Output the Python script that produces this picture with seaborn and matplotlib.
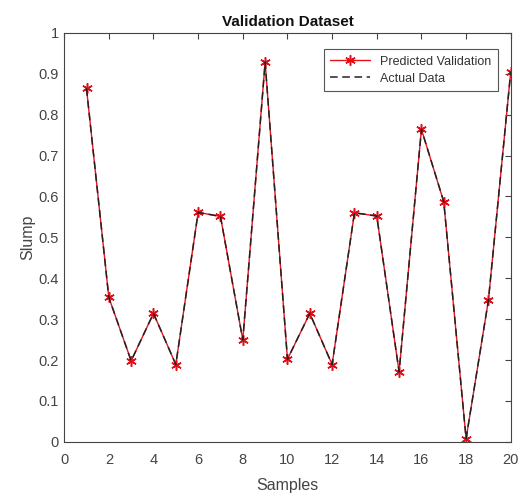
import matplotlib
matplotlib.use("Agg")
import matplotlib.pyplot as plt
import seaborn as sns
import pandas as pd

samples = list(range(1, 21))
predicted = [0.864, 0.353, 0.198, 0.314, 0.189, 0.561, 0.551, 0.249, 0.928, 0.202,
             0.314, 0.189, 0.560, 0.552, 0.171, 0.764, 0.587, 0.008, 0.346, 0.905]
actual = [0.864, 0.353, 0.198, 0.314, 0.189, 0.561, 0.551, 0.249, 0.928, 0.202,
          0.314, 0.189, 0.560, 0.552, 0.171, 0.764, 0.587, 0.008, 0.346, 0.905]

sns.set_style("white")
plt.rcParams['font.family'] = ['Liberation Sans', 'DejaVu Sans']

df = pd.DataFrame({"Samples": samples, "Predicted": predicted, "Actual": actual})

fig = plt.figure(figsize=(5.26, 4.97), dpi=100)
ax = fig.add_axes([0.122, 0.111, 0.849, 0.823])

sns.lineplot(data=df, x="Samples", y="Predicted", ax=ax, color="#e8121c", lw=1.0,
             marker=(6, 2, 0), markersize=7.5, markeredgecolor="#e0101a", markeredgewidth=1.1,
             label="Predicted Validation")
sns.lineplot(data=df, x="Samples", y="Actual", ax=ax, color="#222222", lw=1.1,
             linestyle=(0, (5, 3)), label="Actual Data")

ax.set_xlim(0, 20)
ax.set_ylim(0, 1)
ax.set_xticks(range(0, 21, 2))
ax.set_yticks([i / 10 for i in range(11)])
ax.set_yticklabels(["0", "0.1", "0.2", "0.3", "0.4", "0.5", "0.6", "0.7", "0.8", "0.9", "1"])
ax.tick_params(direction="in", top=True, right=True, length=4, width=0.8,
               color="#444444", labelcolor="#444444", labelsize=10.5)
ax.tick_params(axis="x", pad=8)
ax.tick_params(axis="y", pad=4)
for s in ax.spines.values():
    s.set_color("#444444")
    s.set_linewidth(0.8)

ax.set_xlabel("Samples", fontsize=11.5, color="#444444", labelpad=8)
ax.set_ylabel("Slump", fontsize=11.5, color="#444444", labelpad=2)
ax.set_title("Validation Dataset", fontsize=11, fontweight="bold", color="#111111", pad=5)

leg = ax.legend(loc="upper right", bbox_to_anchor=(0.985, 0.975), fontsize=9,
                frameon=True, fancybox=False, edgecolor="#555555", framealpha=1,
                handlelength=3.2, borderpad=0.5, labelspacing=0.4)
leg.get_frame().set_linewidth(0.8)
for t in leg.get_texts():
    t.set_color("#333333")

fig.savefig("out.png", dpi=100)
